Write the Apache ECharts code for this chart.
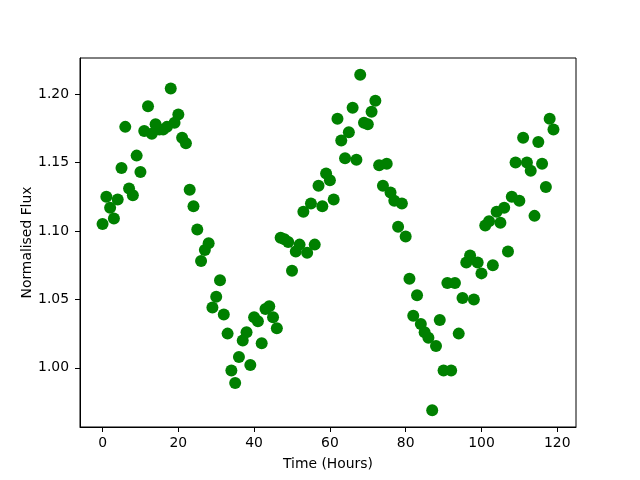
<!DOCTYPE html>
<html>
<head>
<meta charset="utf-8">
<script src="https://cdn.jsdelivr.net/npm/echarts@6/dist/echarts.min.js"></script>
<style>html,body{margin:0;padding:0;background:#fff}#c{width:640px;height:480px}</style>
</head>
<body>
<div id="c"></div>
<script>
var hours = [];
for (var h = 0; h < 120; h++) hours.push(h);
var flux = [
1.105,1.125,1.117,1.109,1.123,1.146,1.176,1.131,1.126,1.155,
1.143,1.173,1.191,1.171,1.178,1.174,1.174,1.176,1.204,1.179,
1.185,1.168,1.164,1.130,1.118,1.101,1.078,1.086,1.091,1.044,
1.052,1.064,1.039,1.025,0.998,0.989,1.008,1.020,1.026,1.002,
1.037,1.034,1.018,1.043,1.045,1.037,1.029,1.095,1.094,1.092,
1.071,1.085,1.090,1.114,1.084,1.120,1.090,1.133,1.118,1.142,
1.137,1.123,1.182,1.166,1.153,1.172,1.190,1.152,1.214,1.179,
1.178,1.187,1.195,1.148,1.133,1.149,1.128,1.122,1.103,1.120,
1.096,1.065,1.038,1.053,1.032,1.026,1.022,0.969,1.016,1.035,
0.998,1.062,0.998,1.062,1.025,1.051,1.077,1.082,1.050,1.077,
1.069,1.104,1.107,1.075,1.114,1.106,1.117,1.085,1.125,1.150,
1.122,1.168,1.150,1.144,1.111,1.165,1.149,1.132,1.182,1.174
];
var xTicks = [0, 20, 40, 60, 80, 100, 120];
var yTicks = [1.00, 1.05, 1.10, 1.15, 1.20];

var pts = hours.map(function (h, i) { return [h, flux[i]]; });
var font = 'DejaVu Sans';
var chart = echarts.init(document.getElementById('c'), null, {renderer: 'canvas'});
chart.setOption({
  animation: false,
  backgroundColor: '#ffffff',
  grid: {left: 80, right: 64, top: 58, bottom: 53, show: true, borderColor: '#000', borderWidth: 1, backgroundColor: 'transparent'},
  xAxis: {
    type: 'value', min: -5.95, max: 124.95,
    name: 'Time (Hours)', nameLocation: 'middle', nameGap: 30, nameMoveOverlap: false,
    nameTextStyle: {fontFamily: font, fontSize: 13.9, color: '#000'},
    axisLine: {show: true, onZero: false, lineStyle: {color: '#000', width: 1}},
    axisTick: {show: true, inside: false, length: 5, lineStyle: {color: '#000'}, customValues: xTicks},
    axisLabel: {show: true, margin: 9, fontFamily: font, fontSize: 13.9, color: '#000', customValues: xTicks,
      formatter: function (v) { return String(v); }},
    splitLine: {show: false}
  },
  yAxis: {
    type: 'value', min: 0.9568, max: 1.2263,
    name: 'Normalised Flux', nameLocation: 'middle', nameGap: 46, nameMoveOverlap: false,
    nameTextStyle: {fontFamily: font, fontSize: 13.9, color: '#000'},
    axisLine: {show: true, onZero: false, lineStyle: {color: '#000', width: 1}},
    axisTick: {show: true, inside: false, length: 5, lineStyle: {color: '#000'}, customValues: yTicks},
    axisLabel: {show: true, margin: 11, fontFamily: font, fontSize: 13.9, color: '#000', customValues: yTicks,
      formatter: function (v) { return v.toFixed(2); }},
    splitLine: {show: false}
  },
  series: [{
    type: 'scatter',
    data: pts,
    symbol: 'circle',
    symbolSize: 12,
    itemStyle: {color: '#008000', opacity: 1},
    emphasis: {disabled: true}
  }]
});
</script>
</body>
</html>
